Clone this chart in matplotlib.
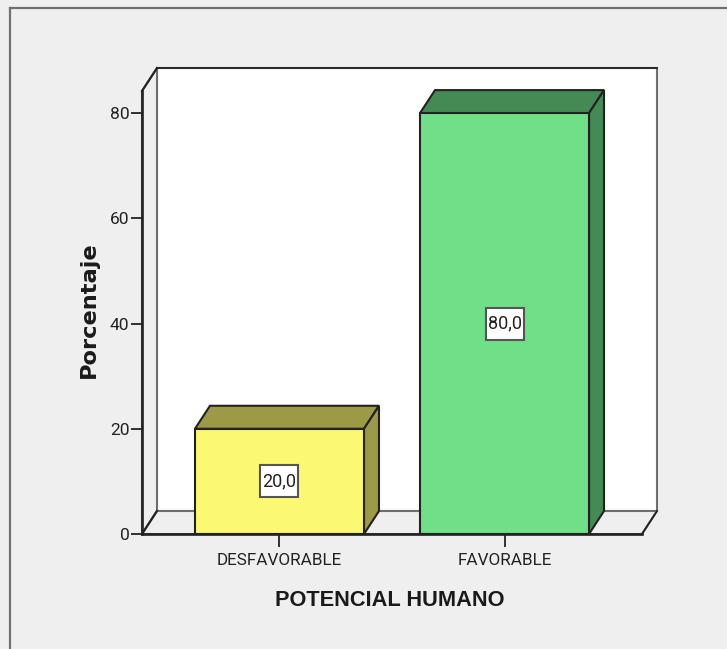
import matplotlib
matplotlib.use("Agg")
import matplotlib.pyplot as plt
from matplotlib.patches import Polygon, Rectangle

categories = ["DESFAVORABLE", "FAVORABLE"]
values = [20.0, 80.0]
value_labels = ["20,0", "80,0"]
yticks = [0, 20, 40, 60, 80]
front_colors = ["#FBF871", "#70DF87"]
shade_colors = ["#9C9A46", "#458A54"]

W, H = 727, 649
BG = "#EFEFEF"
EDGE = "#222222"
WALL = "#6E6E6E"
fam = "Roboto"

fig = plt.figure(figsize=(W / 100, H / 100), dpi=100, facecolor=BG)
L, R, B, T = 142, 642, 534, 91
ax = fig.add_axes([L / W, 1 - B / H, (R - L) / W, (B - T) / H])
ax.set_facecolor("none")
ax.set_xlim(-0.611, 1.611)
ax.set_ylim(0, 84.2)

px_x = 225
px_y = 5.2625
dx = 15 / px_x
dy = 23 / px_y
x0, x1 = ax.get_xlim()
y0, y1 = ax.get_ylim()

ax.add_patch(Polygon([(x0 + dx, y0 + dy), (x1 + dx, y0 + dy), (x1 + dx, y1 + dy), (x0 + dx, y1 + dy)],
                     closed=True, fc="white", ec=WALL, lw=1.5, clip_on=False, zorder=1))
ax.add_patch(Polygon([(x0, y0), (x0 + dx, y0 + dy), (x0 + dx, y1 + dy), (x0, y1)],
                     closed=True, fc=BG, ec=WALL, lw=1.5, clip_on=False, zorder=1.1))
ax.add_patch(Polygon([(x0, y0), (x1, y0), (x1 + dx, y0 + dy), (x0 + dx, y0 + dy)],
                     closed=True, fc=BG, ec=WALL, lw=1.5, clip_on=False, zorder=1.1))
ax.plot([x0, x0 + dx], [y1, y1 + dy], color=EDGE, lw=1.5, clip_on=False, zorder=1.2)
ax.plot([x0 + dx, x1 + dx], [y1 + dy, y1 + dy], color=EDGE, lw=1.3, clip_on=False, zorder=1.2)
ax.plot([x0, x0 + dx], [y0, y0 + dy], color=EDGE, lw=1.5, clip_on=False, zorder=1.2)
ax.plot([x1, x1 + dx], [y0, y0 + dy], color=EDGE, lw=1.3, clip_on=False, zorder=1.2)

w = 169 / px_x
bw, bh = 38 / px_x, 32 / px_y
for i, (v, fc, sc, lab) in enumerate(zip(values, front_colors, shade_colors, value_labels)):
    l, r = i - w / 2, i + w / 2
    ax.add_patch(Polygon([(l, v), (r, v), (r + dx, v + dy), (l + dx, v + dy)], closed=True,
                         fc=sc, ec=EDGE, lw=1.5, clip_on=False, zorder=3, joinstyle="miter"))
    ax.add_patch(Polygon([(r, 0), (r + dx, dy), (r + dx, v + dy), (r, v)], closed=True,
                         fc=sc, ec=EDGE, lw=1.5, clip_on=False, zorder=3, joinstyle="miter"))
    ax.bar(i, v, width=w, color=fc, edgecolor=EDGE, linewidth=1.5, zorder=4)
    ax.add_patch(Rectangle((i - bw / 2, v / 2 - bh / 2), bw, bh, fc="white", ec="#555555", lw=1.5, zorder=5.5))
    ax.text(i, v / 2, lab, ha="center", va="center", family=fam, fontsize=13, color="#222222", zorder=6)

for s in ["top", "right"]:
    ax.spines[s].set_visible(False)
for s in ["left", "bottom"]:
    ax.spines[s].set_color(EDGE)
    ax.spines[s].set_linewidth(1.9)
    ax.spines[s].set_zorder(5)

ax.set_xticks([0, 1])
ax.set_xticklabels(categories, family=fam, fontsize=12.3, color="#222222")
ax.set_yticks(yticks)
ax.set_yticklabels([str(t) for t in yticks], family=fam, fontsize=12.5, color="#222222")
ax.tick_params(axis="x", length=9, width=1.3, color=EDGE, pad=4.5)
ax.tick_params(axis="y", length=8, width=1.3, color=EDGE, pad=1)

fig.text(390 / W, 1 - 600 / H, "POTENCIAL HUMANO", ha="center", va="center", family="Liberation Sans",
         fontsize=15.7, fontweight="bold", color="#1A1A1A")
fig.text(89 / W, 1 - 310 / H, "Porcentaje", rotation=90, ha="center", va="center", family="DejaVu Sans",
         fontsize=16.2, fontweight="bold", color="#1A1A1A")

fig.add_artist(plt.Line2D([9.5 / W, 9.5 / W], [0, 1 - 7.5 / H], color="#707070", lw=1.6))
fig.add_artist(plt.Line2D([9.5 / W, 1], [1 - 7.5 / H, 1 - 7.5 / H], color="#707070", lw=1.6))

fig.savefig("out.png", dpi=100, facecolor=BG)
